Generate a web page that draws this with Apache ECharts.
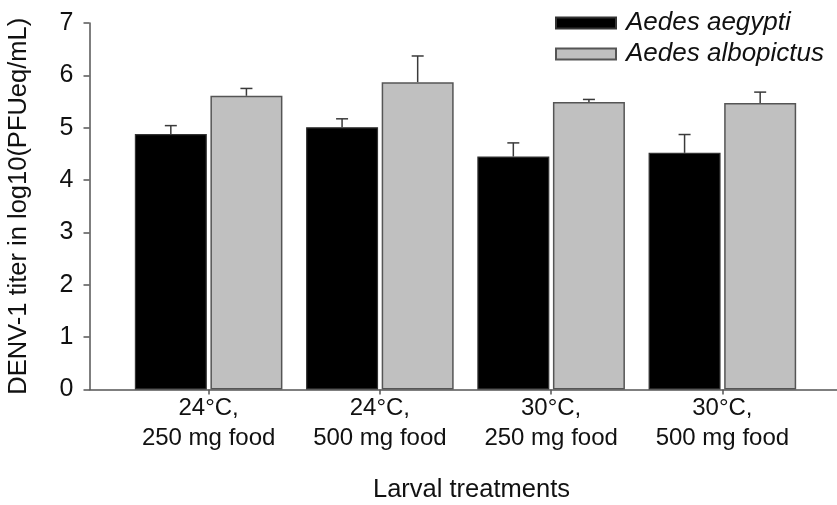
<!DOCTYPE html>
<html>
<head>
<meta charset="utf-8">
<script src="https://cdn.jsdelivr.net/npm/echarts@6/dist/echarts.min.js"></script>
<style>html,body{margin:0;padding:0;background:#fff;}#c{width:837px;height:505px;}</style>
</head>
<body>
<div id="c"></div>
<script>
const categories = ['24°C,\n250 mg food', '24°C,\n500 mg food', '30°C,\n250 mg food', '30°C,\n500 mg food'];
const seriesNames = ['Aedes aegypti', 'Aedes albopictus'];
const aegypti = [4.88, 5.01, 4.45, 4.52];
const aegyptiErr = [0.16, 0.16, 0.26, 0.35];
const albopictus = [5.61, 5.87, 5.49, 5.47];
const albopictusErr = [0.14, 0.50, 0.05, 0.21];
const yTicks = [0, 1, 2, 3, 4, 5, 6, 7];

const FONT = "'Liberation Sans', Arial, sans-serif";
const BAR_W = 72;
const GAP = 0.05;

function errSeries(vals, errs, sign) {
  return {
    type: 'custom',
    xAxisIndex: 0, yAxisIndex: 0,
    z: 5,
    silent: true,
    data: vals.map((v, i) => [i, v, errs[i]]),
    renderItem: function (params, api) {
      const ci = api.value(0), v = api.value(1), e = api.value(2);
      const base = api.coord([ci, v]);
      const top = api.coord([ci, v + e]);
      const off = sign * (BAR_W * (1 + GAP)) / 2;
      const x = base[0] + off;
      const st = { stroke: '#3a3a3a', lineWidth: 1.5 };
      return {
        type: 'group',
        children: [
          { type: 'line', shape: { x1: x, y1: base[1], x2: x, y2: top[1] }, style: st },
          { type: 'line', shape: { x1: x - 6, y1: top[1], x2: x + 6, y2: top[1] }, style: st }
        ]
      };
    }
  };
}

const chart = echarts.init(document.getElementById('c'), null, { renderer: 'canvas' });
chart.setOption({
  animation: false,
  backgroundColor: '#fff',
  textStyle: { fontFamily: FONT },
  legend: {
    data: seriesNames,
    orient: 'vertical',
    left: 550,
    top: 5,
    icon: 'rect',
    itemWidth: 60,
    itemHeight: 11,
    itemGap: 5,
    textStyle: { fontSize: 26, fontStyle: 'italic', color: '#111', fontFamily: FONT, padding: [0, 0, 0, 5] }
  },
  grid: [
    { left: 123, right: 29, top: 23, bottom: 115.5, containLabel: false, outerBoundsMode: 'none' },
    { left: 89.5, right: 0, top: 23, bottom: 115.5, containLabel: false, outerBoundsMode: 'none' }
  ],
  xAxis: [
    {
      type: 'category',
      gridIndex: 0,
      data: categories,
      name: 'Larval treatments',
      nameLocation: 'middle',
      nameGap: 87,
      nameTextStyle: { fontSize: 25.5, color: '#111', fontFamily: FONT, padding: [0, 0, 0, 12] },
      axisLine: { show: false },
      axisTick: { show: true, alignWithLabel: true, length: 5, lineStyle: { color: '#555', width: 1.5 } },
      axisLabel: { fontSize: 24, lineHeight: 30, color: '#111', margin: 4, interval: 0, fontFamily: FONT }
    },
    {
      type: 'value',
      gridIndex: 1,
      min: 0, max: 1,
      axisLine: { show: true, onZero: false, lineStyle: { color: '#555', width: 1.5 } },
      axisTick: { show: false },
      axisLabel: { show: false },
      splitLine: { show: false }
    }
  ],
  yAxis: [
    {
      type: 'value',
      gridIndex: 0,
      min: yTicks[0], max: yTicks[yTicks.length - 1], interval: 1,
      offset: 33.5,
      name: 'DENV-1 titer in log10(PFUeq/mL)',
      nameLocation: 'middle',
      nameGap: 58,
      nameTextStyle: { fontSize: 25.5, color: '#111', fontFamily: FONT },
      axisLine: { show: true, lineStyle: { color: '#555', width: 1.5 } },
      axisTick: { show: true, length: 6, lineStyle: { color: '#555', width: 1.5 } },
      axisLabel: { fontSize: 25, color: '#111', margin: 16, fontFamily: FONT },
      splitLine: { show: false }
    },
    {
      type: 'value', gridIndex: 1, min: 0, max: 1, show: false
    }
  ],
  series: [
    {
      name: seriesNames[0], type: 'bar', data: aegypti,
      barWidth: BAR_W, barGap: (GAP * 100) + '%',
      itemStyle: { color: '#000', borderColor: '#333', borderWidth: 1.2 }
    },
    {
      name: seriesNames[1], type: 'bar', data: albopictus,
      barWidth: BAR_W, barGap: (GAP * 100) + '%',
      itemStyle: { color: '#c0c0c0', borderColor: '#555', borderWidth: 1.5 }
    },
    errSeries(aegypti, aegyptiErr, -1),
    errSeries(albopictus, albopictusErr, 1)
  ]
});
</script>
</body>
</html>
